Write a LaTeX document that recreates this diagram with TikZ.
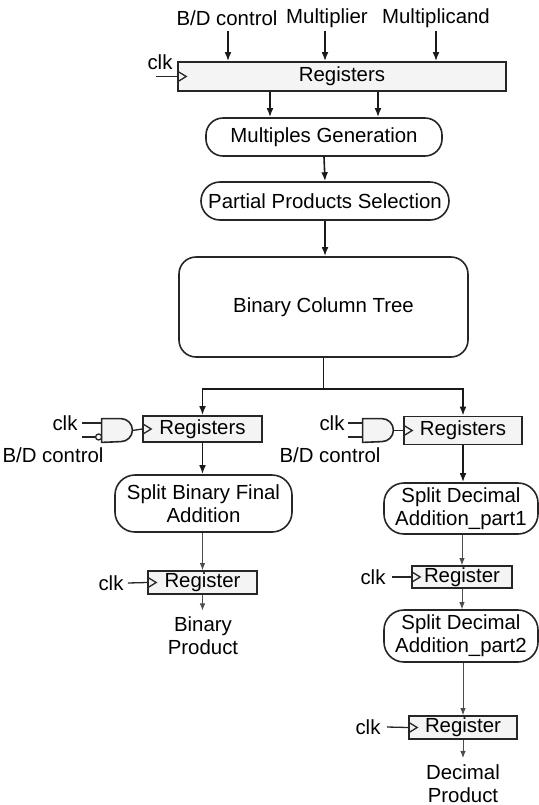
\documentclass[tikz,border=0pt]{standalone}
\usepackage{fontspec}
\setmainfont{Liberation Sans}
\usetikzlibrary{arrows.meta,calc}

% clock input mark at the left edge of a register
\newcommand\clockmark[1]{%
  \draw[wire] ($(#1.west)+(0,-5.5)$) -- ($(#1.west)+(9,0)$) -- ($(#1.west)+(0,5.5)$);}

% AND gate outline drawn on an empty node
\newcommand\andoutline[1]{%
  \draw[gatebody] (#1.north west) -- ($(#1.north east)+(-11.5,0)$)
    arc[start angle=-90,end angle=90,radius=11.5] -- (#1.south west) -- cycle;}

\begin{document}
\begin{tikzpicture}[x=0.5pt,y=-0.5pt,
  font=\fontsize{10.2}{11.5}\selectfont,
  reg/.style={draw=black!85, fill=gray!9, line width=0.8pt, inner sep=0pt},
  proc/.style={draw=black!85, rounded corners=8.5pt, align=center,
    inner sep=0pt, line width=0.8pt},
  lab/.style={inner sep=0pt, align=center},
  arr/.style={draw=black!90, line width=0.8pt, -{Latex[length=4.5pt,width=3.4pt]}},
  thinarr/.style={draw=black!70, line width=0.5pt, -{Latex[length=3.6pt,width=2.8pt]}},
  wire/.style={draw=black!85, line width=0.65pt},
  gatebody/.style={draw=black!85, fill=gray!9, line width=0.8pt},
  gatenode/.style={minimum width=15pt, minimum height=11.5pt, inner sep=0pt}]

\useasboundingbox (0,0) rectangle (539,805);

% ---------- inputs and first register bank ----------
\node[lab] (bd)   at (227,18) {B/D control};
\node[lab] (mul)  at (327,18) {Multiplier};
\node[lab] (mcd)  at (436,18) {Multiplicand};
\node[reg, minimum width=164pt, minimum height=14.5pt] (RT) at (342,76.5) {Registers};
\clockmark{RT}
\node[lab] (clkT) at (160,62) {clk};
\coordinate (clkTin) at (156,76.5);
\draw[wire] (clkTin) -- (RT.west);

\coordinate (inBD)  at (228,31);
\coordinate (inMul) at (325,31);
\coordinate (inMcd) at (436,31);
\draw[arr] (inBD)  -- (inBD  |- RT.north);
\draw[arr] (inMul) -- (inMul |- RT.north);
\draw[arr] (inMcd) -- (inMcd |- RT.north);

% ---------- common datapath ----------
\node[proc, minimum width=118pt, minimum height=19pt] (MG) at (324,137) {Multiples Generation};
\node[proc, rounded corners=9.5pt, minimum width=124pt, minimum height=19pt] (PP) at (325,201) {Partial Products Selection};
\node[proc, minimum width=144.5pt, minimum height=50pt] (BCT) at (323.5,307) {Binary Column Tree};

\draw[arr] ([xshift=-36pt]RT.south) -- ([xshift=-36pt]RT.south |- MG.north);
\draw[arr] ([xshift=18pt]RT.south) -- ([xshift=18pt]RT.south |- MG.north);
\draw[arr] (MG.south) -- (PP.north);
\draw[arr] (PP.south) -- (PP.south |- BCT.north);

\coordinate (split) at ($(BCT.south)+(0,31)$);

% ---------- binary branch ----------
\node[reg, minimum width=59.5pt, minimum height=13pt] (RL) at (202.5,429) {Registers};
\clockmark{RL}
\node[gatenode] (GL) at (117,430.5) {};
\andoutline{GL}
\coordinate (GL1) at ($(GL.west)+(0,-7.5)$);
\coordinate (GL2) at ($(GL.west)+(0,6.5)$);
\node[circle, draw=black!85, fill=white, line width=0.65pt, minimum size=3pt, inner sep=0pt] (bubL) at ($(GL2)+(-3,0)$) {};
\node[lab] (clkL) at (65,423) {clk};
\node[lab] (bdL)  at (53,455) {B/D control};
\coordinate (clkLin) at (82,423);
\coordinate (bdLin)  at (82,437);
\draw[wire] (clkLin) -- (GL1);
\draw[wire] (bdLin) -- (bubL.west);
\draw[wire] (GL.east) -- (RL.west);

\node[proc, rounded corners=10pt, minimum width=88.5pt, minimum height=28.5pt] (SB) at (203.5,503.5) {Split Binary Final\\Addition};
\node[reg, minimum width=54.5pt, minimum height=11.5pt] (RB) at (202.5,582.5) {Register};
\clockmark{RB}
\node[lab] (clkB) at (111,583) {clk};
\draw[wire] ([xshift=2pt]clkB.east) -- (RB.west);
\node[lab] (BP) at (203,636) {Binary\\Product};

\draw[arr] (split) -| (RL.north);
\draw[arr] (RL.south) -- (RL.south |- SB.north);
\draw[thinarr] (RB.north |- SB.south) -- (RB.north);
\draw[thinarr, shorten >=3pt] (RB.south) -- (RB.south |- BP.north);

% ---------- decimal branch ----------
\node[reg, minimum width=59pt, minimum height=14pt] (RR) at (463,430.5) {Registers};
\clockmark{RR}
\node[gatenode] (GR) at (378,430.5) {};
\andoutline{GR}
\coordinate (GR1) at ($(GR.west)+(0,-7.5)$);
\coordinate (GR2) at ($(GR.west)+(0,6.5)$);
\node[lab] (clkR) at (332,423) {clk};
\node[lab] (bdR)  at (330,455) {B/D control};
\coordinate (clkRin) at (348,423);
\coordinate (bdRin)  at (348,437);
\draw[wire] (clkRin) -- (GR1);
\draw[wire] (bdRin) -- (GR2);
\draw[wire] (GR.east) -- (RR.west);

\node[proc, rounded corners=10pt, minimum width=77pt, minimum height=25.5pt] (S1) at (461,508.5) {Split Decimal\\Addition\_part1};
\node[reg, minimum width=50pt, minimum height=11pt] (RD1) at (462,577) {Register};
\clockmark{RD1}
\node[lab] (clkD1) at (373,577) {clk};
\draw[wire] ([xshift=3pt]clkD1.east) -- (RD1.west);
\node[proc, rounded corners=10pt, minimum width=77pt, minimum height=26pt] (S2) at (461,636) {Split Decimal\\Addition\_part2};
\node[reg, minimum width=54pt, minimum height=11.5pt] (RD2) at (463,727.5) {Register};
\clockmark{RD2}
\node[lab] (clkD2) at (368,727) {clk};
\draw[wire] ([xshift=3pt]clkD2.east) -- (RD2.west);
\node[lab] (DP) at (463,783.5) {Decimal\\Product};

\draw[arr] (BCT.south) -- (split) -| (RR.north);
\draw[arr] (RR.south) -- (RR.south |- S1.north);
\draw[thinarr] (RD1.north |- S1.south) -- (RD1.north);
\draw[thinarr] (RD1.south) -- (RD1.south |- S2.north);
\draw[thinarr] (RD2.north |- S2.south) -- (RD2.north);
\draw[thinarr, shorten >=3pt] (RD2.south) -- (RD2.south |- DP.north);

\end{tikzpicture}
\end{document}
